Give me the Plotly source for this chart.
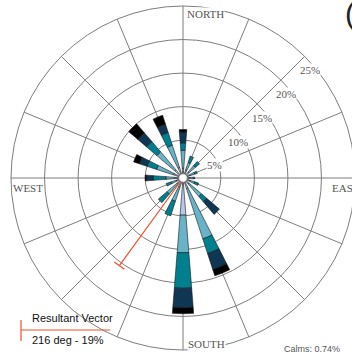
import math
import plotly.graph_objects as go

# ---------------- data ----------------
directions = ["N", "NNE", "NE", "ENE", "E", "ESE", "SE", "SSE",
              "S", "SSW", "SW", "WSW", "W", "WNW", "NW", "NNW"]
dir_degrees = [0, 22.5, 45, 67.5, 90, 112.5, 135, 157.5,
               180, 202.5, 225, 247.5, 270, 292.5, 315, 337.5]

speed_classes = ["Class 1", "Class 2", "Class 3", "Class 4", "Class 5"]
class1 = [0.8, 0.6, 0.5, 0.4, 0.3, 0.4, 0.5, 1.0, 4.9, 0.8, 0.5, 0.4, 0.6, 0.8, 1.0, 1.0]
class2 = [2.7, 1.2, 1.3, 0.8, 0.6, 0.8, 2.5, 7.9, 5.6, 2.2, 2.0, 0.8, 1.3, 2.7, 3.5, 3.5]
class3 = [1.1, 1.0, 0.8, 0.4, 0.2, 0.6, 1.0, 2.3, 5.3, 2.3, 1.7, 0.8, 1.9, 1.5, 2.0, 2.0]
class4 = [1.6, 0.0, 0.0, 0.0, 0.0, 0.0, 2.5, 2.5, 2.9, 0.0, 0.0, 0.0, 1.0, 1.2, 1.7, 1.3]
class5 = [0.4, 0.0, 0.0, 0.0, 0.0, 0.0, 0.0, 1.0, 0.9, 0.0, 0.0, 0.0, 0.2, 0.9, 1.8, 1.4]
class_colors = ["#b7c7e6", "#68b3c7", "#00808f", "#0f3754", "#000000"]

ring_values = [5, 10, 15, 20, 25]
ring_labels = ["5%", "10%", "15%", "20%", "25%"]
compass_labels = ["NORTH", "EAST", "SOUTH", "WEST"]
compass_degrees = [0, 90, 180, 270]

resultant_dir = 216
resultant_pct = 19
resultant_drawn = 15.5
calms_pct = 0.74

# ---------------- geometry ----------------
W, H = 366, 354
cx, cy, R = 183, 178, 172
HOLE = 0.025
RMAX = 25


def polar_px(v, deg):
    rp = R * (HOLE + (1 - HOLE) * v / RMAX)
    a = math.radians(deg)
    return cx + rp * math.sin(a), cy - rp * math.cos(a)


def px2paper(x, y):
    return x / W, 1 - y / H


fig = go.Figure()
for name, vals, col in zip(speed_classes, [class1, class2, class3, class4, class5], class_colors):
    fig.add_trace(go.Barpolar(
        r=vals, theta=dir_degrees, width=[9] * len(dir_degrees), name=name,
        marker=dict(color=col, line=dict(color="#1a1a1a", width=0.6)),
        showlegend=False, hoverinfo="skip"))

# resultant vector
fig.add_trace(go.Scatterpolar(
    r=[0, resultant_drawn], theta=[resultant_dir, resultant_dir], mode="lines",
    line=dict(color="#f0502a", width=1.2), showlegend=False, hoverinfo="skip"))
h = 0.9
fig.add_trace(go.Scatterpolar(
    r=[math.hypot(resultant_drawn, h)] * 2,
    theta=[resultant_dir - math.degrees(math.atan(h / resultant_drawn)),
           resultant_dir + math.degrees(math.atan(h / resultant_drawn))],
    mode="lines", line=dict(color="#f0502a", width=1.2), showlegend=False, hoverinfo="skip"))

grid = "#7d7d7d"
fig.update_layout(
    width=W, height=H, margin=dict(l=0, r=0, t=0, b=0),
    paper_bgcolor="white", showlegend=False,
    polar=dict(
        domain=dict(x=[(cx - R) / W, (cx + R) / W], y=[1 - (cy + R) / H, 1 - (cy - R) / H]),
        bgcolor="white", hole=HOLE, barmode="stack",
        radialaxis=dict(range=[0, RMAX], tickvals=ring_values, showticklabels=False,
                        ticks="", showline=False, gridcolor=grid, gridwidth=1),
        angularaxis=dict(direction="clockwise", rotation=90, tickvals=dir_degrees,
                         showticklabels=False, ticks="", gridcolor=grid, gridwidth=1,
                         linecolor=grid, linewidth=1),
    ),
)

serif = dict(family="Liberation Serif, Times New Roman, serif", size=11, color="#555555")
anns = []
for v, lab in zip(ring_values, ring_labels):
    x, y = polar_px(v, 45)
    px, py = px2paper(x + 5, y + 14)
    anns.append(dict(x=px, y=py, xref="paper", yref="paper", text=lab, showarrow=False,
                     font=serif, bgcolor="white", borderpad=0, xanchor="center", yanchor="middle"))

for lab, d in zip(compass_labels, compass_degrees):
    x, y = polar_px(RMAX, d)
    if d == 0:
        x, y, xa = x + 3, y + 8, "left"
    elif d == 90:
        x, y, xa = x - 24, y + 10, "left"
    elif d == 180:
        x, y, xa = x + 4, y - 6, "left"
    else:
        x, y, xa = x + 1, y + 10, "left"
    px, py = px2paper(x, y)
    anns.append(dict(x=px, y=py, xref="paper", yref="paper", text=lab, showarrow=False,
                     font=serif, bgcolor="white", borderpad=0, xanchor=xa, yanchor="middle"))

sans = dict(family="Liberation Sans, Arial, sans-serif", size=11, color="#111111")
for text, yy in [("Resultant Vector", 318), (f"{resultant_dir} deg - {resultant_pct}%", 340)]:
    px, py = px2paper(30, yy)
    anns.append(dict(x=px, y=py, xref="paper", yref="paper", text=text, showarrow=False,
                     font=sans, xanchor="left", yanchor="middle"))
px, py = px2paper(342, 349)
anns.append(dict(x=px, y=py, xref="paper", yref="paper", text=f"Calms: {calms_pct}%",
                 showarrow=False, font=dict(family="Liberation Sans, Arial, sans-serif", size=9,
                                            color="#555555"), xanchor="right", yanchor="middle"))
px, py = px2paper(343, 14)
anns.append(dict(x=px, y=py, xref="paper", yref="paper", text="(", showarrow=False,
                 font=dict(family="Liberation Sans, Arial, sans-serif", size=30, color="#222222"),
                 xanchor="left", yanchor="middle"))
fig.update_layout(annotations=anns)

shapes = []
for (x0, y0, x1, y1) in [(21, 320, 21, 341), (21, 330, 110, 330)]:
    a0, b0 = px2paper(x0, y0)
    a1, b1 = px2paper(x1, y1)
    shapes.append(dict(type="line", xref="paper", yref="paper", x0=a0, y0=b0, x1=a1, y1=b1,
                       line=dict(color="#f0502a", width=1.2)))
fig.update_layout(shapes=shapes)

fig.write_html("out.html",
               post_script="document.documentElement.style.overflow='hidden';document.body.style.overflow='hidden';")
